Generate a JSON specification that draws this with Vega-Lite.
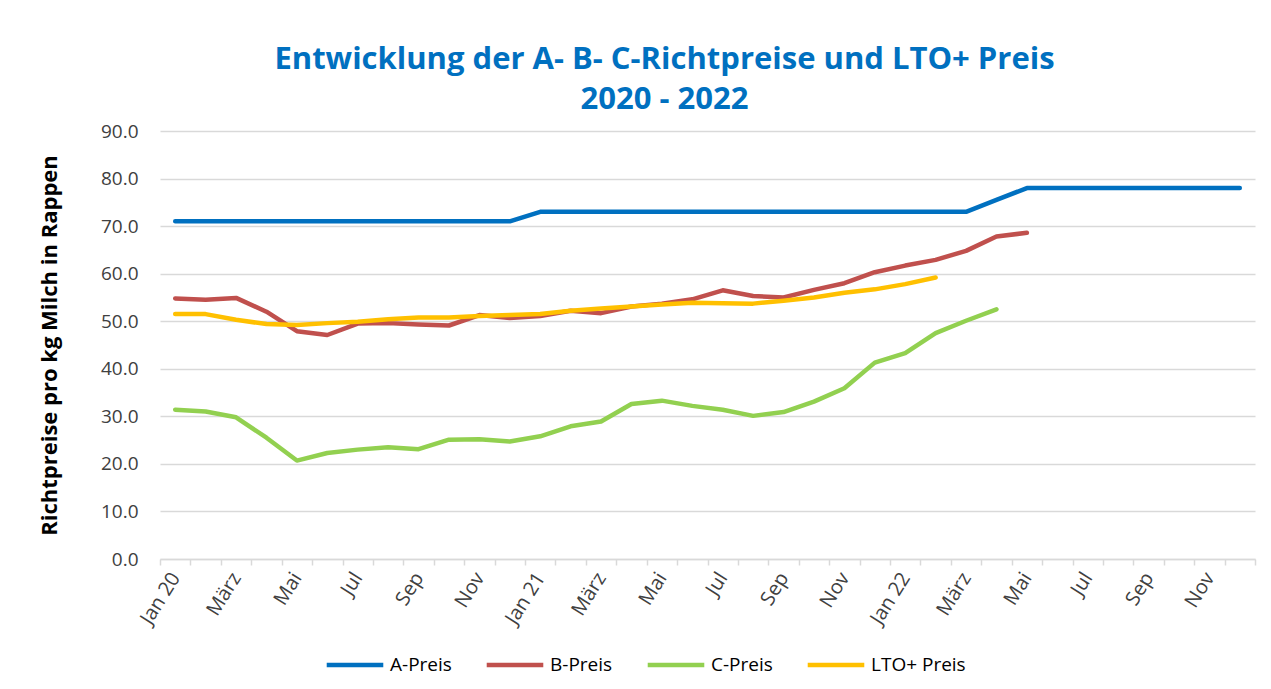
{
  "$schema": "https://vega.github.io/schema/vega-lite/v6.json",
  "width": 1095,
  "height": 428,
  "autosize": {"type": "none"},
  "padding": {"left": 160, "top": 131, "right": 16, "bottom": 130},
  "background": "white",
  "config": {
    "font": "Open Sans",
    "view": {"stroke": null}
  },
  "title": {
    "text": ["Entwicklung der A- B- C-Richtpreise und LTO+ Preis", "2020 - 2022"],
    "anchor": "middle",
    "frame": "group",
    "dx": -43,
    "offset": 6,
    "font": "Open Sans",
    "fontSize": 31,
    "fontWeight": "bold",
    "color": "#0070C0",
    "lineHeight": 40
  },
  "data": {
    "values": [
      {"month": "2020-01", "series": "A-Preis", "price": 71},
      {"month": "2020-02", "series": "A-Preis", "price": 71},
      {"month": "2020-03", "series": "A-Preis", "price": 71},
      {"month": "2020-04", "series": "A-Preis", "price": 71},
      {"month": "2020-05", "series": "A-Preis", "price": 71},
      {"month": "2020-06", "series": "A-Preis", "price": 71},
      {"month": "2020-07", "series": "A-Preis", "price": 71},
      {"month": "2020-08", "series": "A-Preis", "price": 71},
      {"month": "2020-09", "series": "A-Preis", "price": 71},
      {"month": "2020-10", "series": "A-Preis", "price": 71},
      {"month": "2020-11", "series": "A-Preis", "price": 71},
      {"month": "2020-12", "series": "A-Preis", "price": 71},
      {"month": "2021-01", "series": "A-Preis", "price": 73},
      {"month": "2021-02", "series": "A-Preis", "price": 73},
      {"month": "2021-03", "series": "A-Preis", "price": 73},
      {"month": "2021-04", "series": "A-Preis", "price": 73},
      {"month": "2021-05", "series": "A-Preis", "price": 73},
      {"month": "2021-06", "series": "A-Preis", "price": 73},
      {"month": "2021-07", "series": "A-Preis", "price": 73},
      {"month": "2021-08", "series": "A-Preis", "price": 73},
      {"month": "2021-09", "series": "A-Preis", "price": 73},
      {"month": "2021-10", "series": "A-Preis", "price": 73},
      {"month": "2021-11", "series": "A-Preis", "price": 73},
      {"month": "2021-12", "series": "A-Preis", "price": 73},
      {"month": "2022-01", "series": "A-Preis", "price": 73},
      {"month": "2022-02", "series": "A-Preis", "price": 73},
      {"month": "2022-03", "series": "A-Preis", "price": 73},
      {"month": "2022-04", "series": "A-Preis", "price": 75.5},
      {"month": "2022-05", "series": "A-Preis", "price": 78},
      {"month": "2022-06", "series": "A-Preis", "price": 78},
      {"month": "2022-07", "series": "A-Preis", "price": 78},
      {"month": "2022-08", "series": "A-Preis", "price": 78},
      {"month": "2022-09", "series": "A-Preis", "price": 78},
      {"month": "2022-10", "series": "A-Preis", "price": 78},
      {"month": "2022-11", "series": "A-Preis", "price": 78},
      {"month": "2022-12", "series": "A-Preis", "price": 78},

      {"month": "2020-01", "series": "B-Preis", "price": 54.8},
      {"month": "2020-02", "series": "B-Preis", "price": 54.5},
      {"month": "2020-03", "series": "B-Preis", "price": 54.9},
      {"month": "2020-04", "series": "B-Preis", "price": 52.0},
      {"month": "2020-05", "series": "B-Preis", "price": 47.9},
      {"month": "2020-06", "series": "B-Preis", "price": 47.1},
      {"month": "2020-07", "series": "B-Preis", "price": 49.5},
      {"month": "2020-08", "series": "B-Preis", "price": 49.6},
      {"month": "2020-09", "series": "B-Preis", "price": 49.3},
      {"month": "2020-10", "series": "B-Preis", "price": 49.1},
      {"month": "2020-11", "series": "B-Preis", "price": 51.3},
      {"month": "2020-12", "series": "B-Preis", "price": 50.7},
      {"month": "2021-01", "series": "B-Preis", "price": 51.1},
      {"month": "2021-02", "series": "B-Preis", "price": 52.2},
      {"month": "2021-03", "series": "B-Preis", "price": 51.7},
      {"month": "2021-04", "series": "B-Preis", "price": 53.1},
      {"month": "2021-05", "series": "B-Preis", "price": 53.7},
      {"month": "2021-06", "series": "B-Preis", "price": 54.6},
      {"month": "2021-07", "series": "B-Preis", "price": 56.5},
      {"month": "2021-08", "series": "B-Preis", "price": 55.3},
      {"month": "2021-09", "series": "B-Preis", "price": 55.0},
      {"month": "2021-10", "series": "B-Preis", "price": 56.6},
      {"month": "2021-11", "series": "B-Preis", "price": 58.0},
      {"month": "2021-12", "series": "B-Preis", "price": 60.3},
      {"month": "2022-01", "series": "B-Preis", "price": 61.7},
      {"month": "2022-02", "series": "B-Preis", "price": 62.9},
      {"month": "2022-03", "series": "B-Preis", "price": 64.8},
      {"month": "2022-04", "series": "B-Preis", "price": 67.8},
      {"month": "2022-05", "series": "B-Preis", "price": 68.6},

      {"month": "2020-01", "series": "C-Preis", "price": 31.4},
      {"month": "2020-02", "series": "C-Preis", "price": 31.0},
      {"month": "2020-03", "series": "C-Preis", "price": 29.8},
      {"month": "2020-04", "series": "C-Preis", "price": 25.5},
      {"month": "2020-05", "series": "C-Preis", "price": 20.7},
      {"month": "2020-06", "series": "C-Preis", "price": 22.3},
      {"month": "2020-07", "series": "C-Preis", "price": 23.0},
      {"month": "2020-08", "series": "C-Preis", "price": 23.5},
      {"month": "2020-09", "series": "C-Preis", "price": 23.1},
      {"month": "2020-10", "series": "C-Preis", "price": 25.1},
      {"month": "2020-11", "series": "C-Preis", "price": 25.2},
      {"month": "2020-12", "series": "C-Preis", "price": 24.7},
      {"month": "2021-01", "series": "C-Preis", "price": 25.8},
      {"month": "2021-02", "series": "C-Preis", "price": 27.9},
      {"month": "2021-03", "series": "C-Preis", "price": 28.9},
      {"month": "2021-04", "series": "C-Preis", "price": 32.6},
      {"month": "2021-05", "series": "C-Preis", "price": 33.3},
      {"month": "2021-06", "series": "C-Preis", "price": 32.2},
      {"month": "2021-07", "series": "C-Preis", "price": 31.4},
      {"month": "2021-08", "series": "C-Preis", "price": 30.1},
      {"month": "2021-09", "series": "C-Preis", "price": 30.9},
      {"month": "2021-10", "series": "C-Preis", "price": 33.1},
      {"month": "2021-11", "series": "C-Preis", "price": 35.9},
      {"month": "2021-12", "series": "C-Preis", "price": 41.3},
      {"month": "2022-01", "series": "C-Preis", "price": 43.3},
      {"month": "2022-02", "series": "C-Preis", "price": 47.5},
      {"month": "2022-03", "series": "C-Preis", "price": 50.1},
      {"month": "2022-04", "series": "C-Preis", "price": 52.5},

      {"month": "2020-01", "series": "LTO+ Preis", "price": 51.5},
      {"month": "2020-02", "series": "LTO+ Preis", "price": 51.5},
      {"month": "2020-03", "series": "LTO+ Preis", "price": 50.3},
      {"month": "2020-04", "series": "LTO+ Preis", "price": 49.4},
      {"month": "2020-05", "series": "LTO+ Preis", "price": 49.2},
      {"month": "2020-06", "series": "LTO+ Preis", "price": 49.6},
      {"month": "2020-07", "series": "LTO+ Preis", "price": 49.9},
      {"month": "2020-08", "series": "LTO+ Preis", "price": 50.4},
      {"month": "2020-09", "series": "LTO+ Preis", "price": 50.8},
      {"month": "2020-10", "series": "LTO+ Preis", "price": 50.8},
      {"month": "2020-11", "series": "LTO+ Preis", "price": 51.1},
      {"month": "2020-12", "series": "LTO+ Preis", "price": 51.3},
      {"month": "2021-01", "series": "LTO+ Preis", "price": 51.5},
      {"month": "2021-02", "series": "LTO+ Preis", "price": 52.2},
      {"month": "2021-03", "series": "LTO+ Preis", "price": 52.7},
      {"month": "2021-04", "series": "LTO+ Preis", "price": 53.1},
      {"month": "2021-05", "series": "LTO+ Preis", "price": 53.5},
      {"month": "2021-06", "series": "LTO+ Preis", "price": 53.9},
      {"month": "2021-07", "series": "LTO+ Preis", "price": 53.8},
      {"month": "2021-08", "series": "LTO+ Preis", "price": 53.7},
      {"month": "2021-09", "series": "LTO+ Preis", "price": 54.3},
      {"month": "2021-10", "series": "LTO+ Preis", "price": 55.0},
      {"month": "2021-11", "series": "LTO+ Preis", "price": 56.0},
      {"month": "2021-12", "series": "LTO+ Preis", "price": 56.7},
      {"month": "2022-01", "series": "LTO+ Preis", "price": 57.8},
      {"month": "2022-02", "series": "LTO+ Preis", "price": 59.2}
    ]
  },
  "mark": {"type": "line", "strokeWidth": 4.5, "strokeCap": "round", "strokeJoin": "round"},
  "encoding": {
    "x": {
      "field": "month",
      "type": "ordinal",
      "scale": {"type": "band", "paddingInner": 0, "paddingOuter": 0},
      "axis": {
        "title": null,
        "tickBand": "extent",
        "labelAngle": -58,
        "labelAlign": "right",
        "labelBaseline": "middle",
        "labelPadding": 9,
        "labelOverlap": false,
        "labelFont": "Open Sans",
        "labelFontSize": 20,
        "labelColor": "#404040",
        "domainColor": "#d9d9d9",
        "domainWidth": 1.5,
        "tickColor": "#d9d9d9",
        "tickWidth": 1.5,
        "tickSize": 6,
        "grid": false,
        "labelExpr": "substring(datum.value,5,7)=='01' ? 'Jan ' + substring(datum.value,2,4) : substring(datum.value,5,7)=='03' ? 'März' : substring(datum.value,5,7)=='05' ? 'Mai' : substring(datum.value,5,7)=='07' ? 'Jul' : substring(datum.value,5,7)=='09' ? 'Sep' : substring(datum.value,5,7)=='11' ? 'Nov' : ''"
      }
    },
    "y": {
      "field": "price",
      "type": "quantitative",
      "scale": {"domain": [0, 90], "nice": false},
      "axis": {
        "title": "Richtpreise pro kg Milch in Rappen",
        "titleFont": "Open Sans",
        "titleFontSize": 22,
        "titleFontWeight": "bold",
        "titleColor": "#000000",
        "titlePadding": 39,
        "values": [0, 10, 20, 30, 40, 50, 60, 70, 80, 90],
        "format": ".1f",
        "labelFont": "Open Sans",
        "labelFontSize": 19,
        "labelColor": "#404040",
        "labelPadding": 22,
        "domain": false,
        "ticks": false,
        "grid": true,
        "gridColor": "#d9d9d9",
        "gridWidth": 1.5
      }
    },
    "color": {
      "field": "series",
      "type": "nominal",
      "scale": {
        "domain": ["A-Preis", "B-Preis", "C-Preis", "LTO+ Preis"],
        "range": ["#0070C0", "#C0504D", "#92D050", "#FFC000"]
      },
      "legend": {
        "title": null,
        "orient": "none",
        "legendX": 164,
        "legendY": 503,
        "direction": "horizontal",
        "symbolType": "stroke",
        "symbolStrokeWidth": 4.5,
        "symbolSize": 3200,
        "labelFont": "Open Sans",
        "labelFontSize": 19,
        "labelColor": "#000000",
        "labelOffset": 4,
        "columnPadding": 25
      }
    }
  }
}
